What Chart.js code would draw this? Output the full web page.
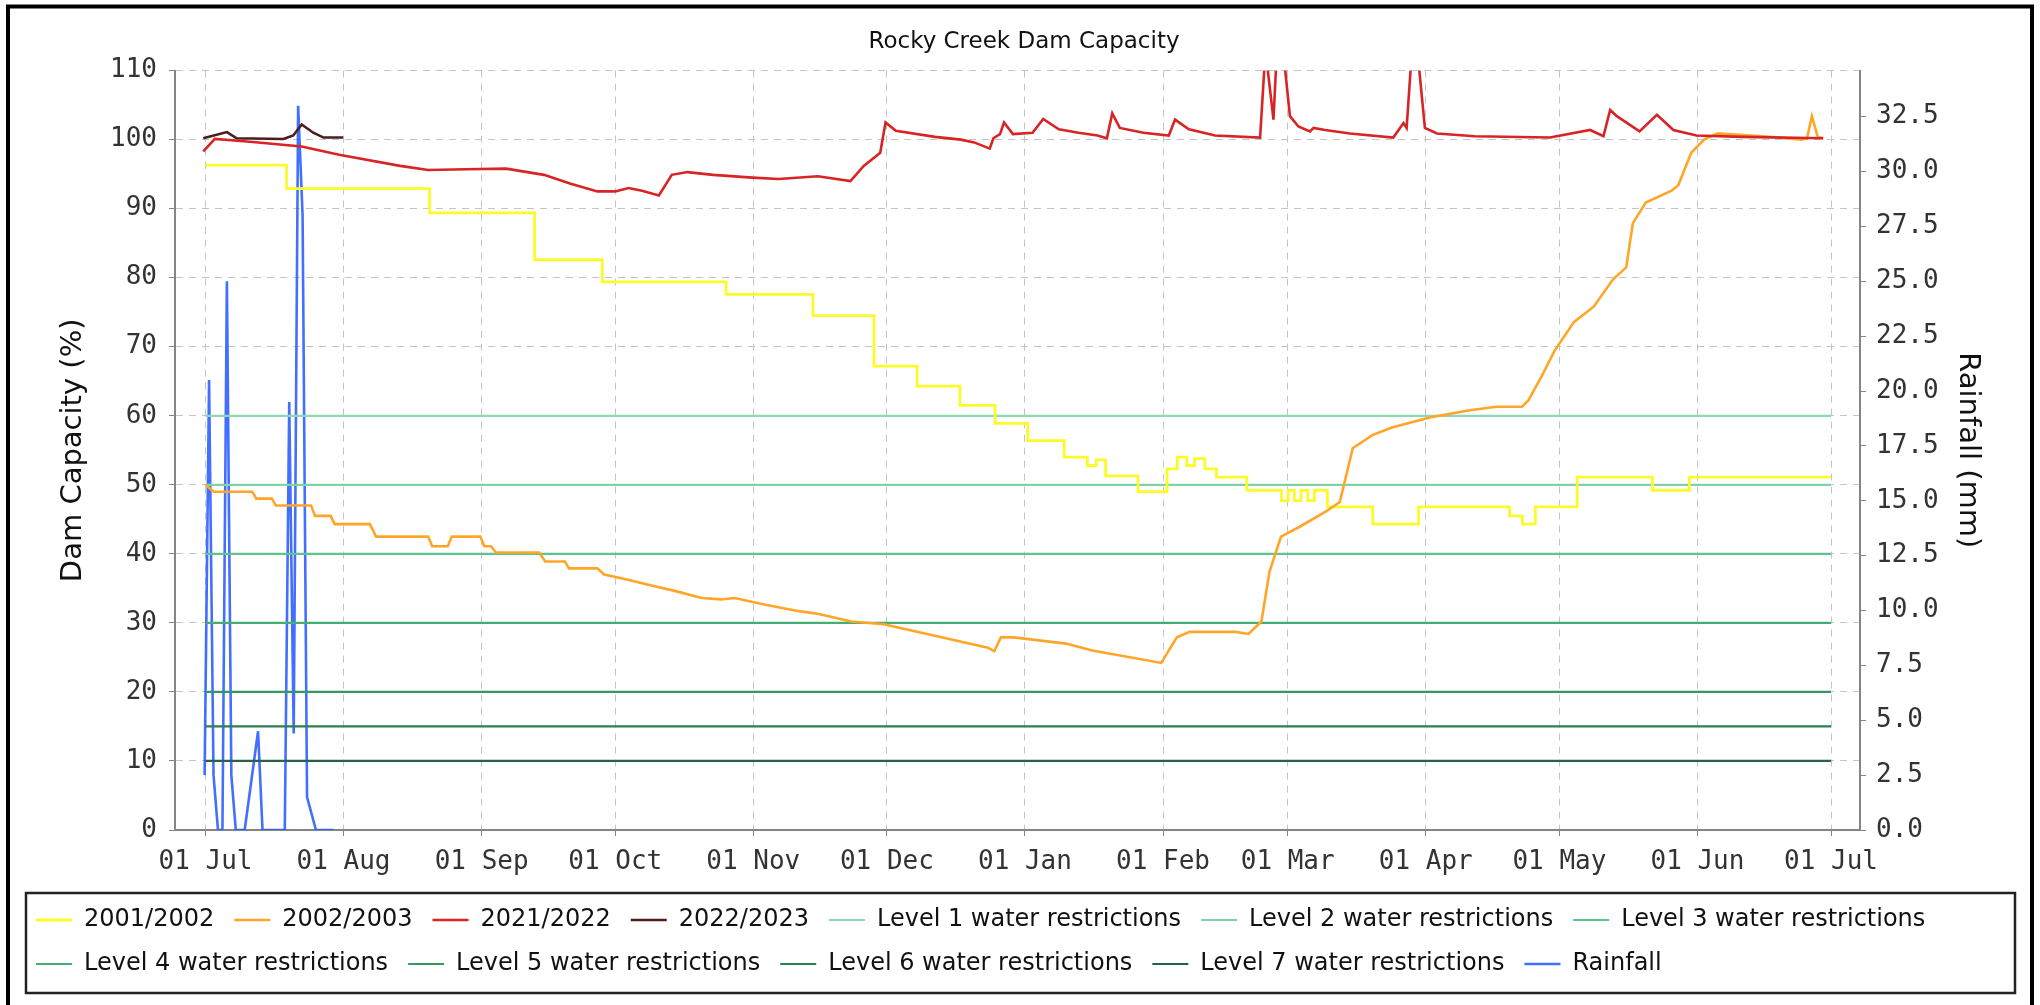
<!DOCTYPE html>
<html>
<head>
<meta charset="utf-8">
<title>Rocky Creek Dam Capacity</title>
<script src="https://cdn.jsdelivr.net/npm/chart.js@4.4.1/dist/chart.umd.min.js"></script>
<style>
  html, body { margin: 0; padding: 0; background: #fff; }
  canvas { display: block; }
</style>
</head>
<body>
<canvas id="damChart" width="2040" height="1005"></canvas>
<script>
const chartTitle = "Rocky Creek Dam Capacity";

// x axis: days since 1 July
const monthDays = [0, 31, 62, 92, 123, 153, 184, 215, 243, 274, 304, 335, 365];
const monthLabels = ["01 Jul", "01 Aug", "01 Sep", "01 Oct", "01 Nov", "01 Dec", "01 Jan",
                     "01 Feb", "01 Mar", "01 Apr", "01 May", "01 Jun", "01 Jul"];

// 2001/2002 (level changes, held until the next day listed)
const days0102 = [0, 18.2, 50.3, 73.9, 89.1, 116.9, 136.4, 150.1, 159.8, 169.4, 177.3, 184.6, 192.8,
  198, 200, 202.1, 209.4, 215.9, 218.2, 220.3, 222.1, 224.4, 227, 233.8, 241.6, 243.1, 244.5, 246,
  247.5, 249, 251.9, 262.1, 272.4, 292.8, 295.7, 298.6, 308, 324.9, 333.2, 365];
const cap0102 = [96.3, 92.9, 89.4, 82.6, 79.4, 77.6, 74.5, 67.2, 64.3, 61.5, 58.9, 56.4, 54.0,
  52.8, 53.6, 51.3, 49.0, 52.3, 54.0, 52.8, 53.8, 52.3, 51.1, 49.2, 47.7, 49.2, 47.7, 49.2,
  47.7, 49.2, 46.8, 44.3, 46.8, 45.5, 44.3, 46.8, 51.1, 49.2, 51.1, 51.1];

// 2002/2003
const days0203 = [0, 1.8, 10.5, 11.4, 14.9, 15.8, 23.7, 24.6, 28.1, 29, 36.9, 38.3, 50, 50.9, 54.4,
  55.3, 61.7, 62.6, 64.1, 65.2, 74.9, 76.3, 80.7, 81.6, 88, 89.5, 93.9, 99.7, 105.6, 111.4, 115.8,
  118.8, 126, 133.3, 137.7, 145, 152.3, 164, 175.7, 177.1, 178.6, 181.5, 193.2, 199.1, 214.6, 218.1,
  221, 231.3, 234.2, 237.1, 238.9, 241.5, 245.9, 251.7, 254.7, 257.6, 262, 266.4, 275.1, 283.9,
  289.8, 295.6, 297.1, 300, 302.9, 307.3, 311.7, 316.1, 319, 320.5, 323.4, 329.2, 330.7, 333.6,
  336.5, 339.5, 351.1, 358.5, 359.6, 360.7, 362, 363.3];
const cap0203 = [50, 49, 49, 48, 48, 47, 47, 45.5, 45.5, 44.3, 44.3, 42.5, 42.5, 41.1, 41.1,
  42.5, 42.5, 41.1, 41.1, 40.2, 40.2, 38.9, 38.9, 37.9, 37.9, 37, 36.4, 35.5, 34.6, 33.6, 33.4,
  33.6, 32.6, 31.7, 31.3, 30.2, 29.8, 28.1, 26.4, 25.9, 27.9, 27.9, 27, 26, 24.2, 27.9,
  28.7, 28.7, 28.4, 30.2, 37.4, 42.5, 44, 46.2, 47.5, 55.3, 57.2, 58.3, 59.8, 60.8,
  61.3, 61.3, 62.3, 65.7, 69.4, 73.6, 75.8, 79.8, 81.5, 87.9, 90.9, 92.6, 93.4, 98.1,
  100, 100.9, 100.4, 100, 100.2, 103.4, 100.4, 100.2];

// 2021/2022
const days2122 = [-0.5, 2.1, 10, 21.6, 30, 43.7, 50, 58.5, 67.5, 76, 82, 88, 92, 95, 98, 101.8,
  104.7, 108.2, 114, 122.8, 128.7, 137.5, 144.8, 147.8, 151.5, 152.7, 155, 163.8, 169.6, 172.6,
  176.1, 176.9, 178.4, 179.3, 181.3, 185.7, 188.1, 191.6, 196, 200.3, 202.4, 203.6, 205.3, 210.6,
  216.3, 217.7, 220.8, 226.7, 236.8, 238, 239.8, 240.8, 241.8, 243.5, 245.4, 248, 248.8, 251.4,
  257, 266.7, 269, 269.7, 271, 272.1, 273.8, 276.5, 285, 301.9, 310.9, 313.9, 315.4, 316.9, 322,
  325.9, 329.6, 334.8, 345, 363.2];
const cap2122 = [98.3, 100.1, 99.7, 99.0, 97.8, 96.2, 95.6, 95.7, 95.8, 94.9, 93.6, 92.5, 92.5,
  93.0, 92.6, 91.9, 94.9, 95.3, 94.9, 94.5, 94.3, 94.7, 94.0, 96.2, 98.1, 102.5, 101.3, 100.4,
  100.0, 99.6, 98.7, 100.2, 100.8, 102.5, 100.8, 101.0, 103.0, 101.5, 101.0, 100.6, 100.2, 103.8,
  101.7, 101.0, 100.6, 102.9, 101.5, 100.6, 100.3, 113, 102.9, 116, 114, 103.4, 101.9, 101.2,
  101.7, 101.4, 100.9, 100.3, 102.4, 101.7, 114, 113, 101.7, 100.9, 100.5, 100.3, 101.4, 100.5,
  104.3, 103.4, 101.2, 103.6, 101.4, 100.6, 100.4, 100.2];

// 2022/2023
const days2223 = [-0.5, 4.8, 7, 17.5, 19.7, 21.6, 24.2, 26.5, 30.9];
const cap2223 = [100.2, 101.1, 100.2, 100.1, 100.6, 102.2, 101.0, 100.3, 100.3];

// rainfall (mm), right axis
const rainDays = [-0.2, 0.8, 1.8, 2.8, 3.8, 4.8, 5.8, 6.8, 8.8, 11.8, 12.8, 17.8, 18.8, 19.8,
  20.8, 21.8, 22.8, 24.8, 28.8];
const rainMm = [2.5, 20.5, 2.5, 0, 0, 25, 2.5, 0, 0, 4.5, 0, 0, 19.5, 4.4, 33, 28, 1.5, 0, 0];

// water restriction levels (% capacity)
const levelNames = ["Level 1 water restrictions", "Level 2 water restrictions", "Level 3 water restrictions",
  "Level 4 water restrictions", "Level 5 water restrictions", "Level 6 water restrictions",
  "Level 7 water restrictions"];
const levelValues = [60, 50, 40, 30, 20, 15, 10];

const levelColors = ["#8fd8b1", "#80d2a6", "#5cc48c", "#43ad74", "#379763", "#2d7e54", "#276247"];

const toPoints = (xs, ys) => xs.map((x, i) => ({ x: x, y: ys[i] }));

const datasets = [
  { label: "2001/2002", data: toPoints(days0102, cap0102), borderColor: "#fbfb2a", borderWidth: 2.8, stepped: true, order: 3 },
  { label: "2002/2003", data: toPoints(days0203, cap0203), borderColor: "#ffa628", order: 2 },
  { label: "2021/2022", data: toPoints(days2122, cap2122), borderColor: "#d82424", order: 1 },
  { label: "2022/2023", data: toPoints(days2223, cap2223), borderColor: "#4c1d1d", order: 0 }
];
levelNames.forEach((name, i) => {
  datasets.push({
    label: name,
    data: [{ x: 0, y: levelValues[i] }, { x: 365, y: levelValues[i] }],
    borderColor: levelColors[i],
    borderWidth: 2.2,
    order: 4 + i
  });
});
datasets.push({
  label: "Rainfall",
  data: toPoints(rainDays, rainMm),
  borderColor: "rgba(45, 95, 255, 0.9)",
  yAxisID: "y2",
  order: 20
});
datasets.forEach(d => {
  d.backgroundColor = d.borderColor;
  if (!d.borderWidth) d.borderWidth = 2.6;
  d.fill = false;
  d.pointRadius = 0;
});

const gridColor = "#c4c4c4";
const axisColor = "#858585";
const tickFont = { family: "DejaVu Sans Mono", size: 26 };

// white background, outer frame and the box round the legend
const framePlugin = {
  id: "frame",
  beforeDraw(chart) {
    const c = chart.ctx;
    c.save();
    c.fillStyle = "#fff";
    c.fillRect(0, 0, chart.width, chart.height);
    c.restore();
  },
  afterDraw(chart) {
    const c = chart.ctx;
    const lg = chart.legend;
    c.save();
    c.strokeStyle = "#000";
    c.lineWidth = 4;
    c.strokeRect(8, 6.5, chart.width - 16, chart.height + 20);
    c.strokeStyle = "#222";
    c.lineWidth = 2.5;
    c.strokeRect(lg.left + 10, lg.top + 5, lg.width - 27, 100);
    c.restore();
  }
};

new Chart(document.getElementById("damChart"), {
  type: "line",
  data: { datasets: datasets },
  options: {
    responsive: false,
    animation: false,
    events: [],
    layout: { padding: { left: 16, right: 8, top: 28, bottom: 19 } },
    elements: { line: { tension: 0 }, point: { radius: 0 } },
    plugins: {
      title: {
        display: true,
        text: chartTitle,
        color: "#111",
        font: { family: "DejaVu Sans", size: 23, weight: "normal" },
        padding: { top: 0, bottom: 15 }
      },
      legend: {
        position: "bottom",
        align: "start",
        labels: {
          usePointStyle: true,
          pointStyle: "line",
          pointStyleWidth: 36,
          padding: 20,
          color: "#111",
          font: { family: "DejaVu Sans", size: 24 },
          sort: (a, b) => a.datasetIndex - b.datasetIndex
        }
      },
      tooltip: { enabled: false }
    },
    scales: {
      x: {
        type: "linear",
        min: -6.85,
        max: 371.5,
        afterBuildTicks: (scale) => { scale.ticks = monthDays.map(v => ({ value: v })); },
        afterFit: (scale) => { scale.height = 58; },
        ticks: {
          autoSkip: false,
          maxRotation: 0,
          padding: 11,
          color: "#333",
          font: tickFont,
          callback: (value) => monthLabels[monthDays.indexOf(value)]
        },
        grid: { color: gridColor, tickColor: axisColor, tickLength: 6, tickBorderDash: [] },
        border: { color: axisColor, width: 2, dash: [7, 6] }
      },
      y: {
        position: "left",
        min: 0,
        max: 110,
        afterFit: (scale) => { scale.width = 159; },
        ticks: { stepSize: 10, padding: 12, color: "#333", font: tickFont },
        grid: { color: gridColor, tickColor: axisColor, tickLength: 6, tickBorderDash: [] },
        border: { color: axisColor, width: 2, dash: [7, 6] },
        title: {
          display: true,
          text: "Dam Capacity (%)",
          color: "#111",
          font: { family: "DejaVu Sans", size: 29 },
          padding: { top: 40, bottom: 0 }
        }
      },
      y2: {
        position: "right",
        min: 0,
        max: 34.6,
        afterFit: (scale) => { scale.width = 172; },
        ticks: {
          stepSize: 2.5,
          includeBounds: false,
          padding: 10,
          color: "#333",
          font: tickFont,
          callback: (value) => value.toFixed(1)
        },
        grid: { drawOnChartArea: false, color: axisColor, tickColor: axisColor, tickLength: 6 },
        border: { color: axisColor, width: 2 },
        title: {
          display: true,
          text: "Rainfall (mm)",
          color: "#111",
          font: { family: "DejaVu Sans", size: 29 },
          padding: { top: 47, bottom: 0 }
        }
      }
    }
  },
  plugins: [framePlugin]
});
</script>
</body>
</html>
